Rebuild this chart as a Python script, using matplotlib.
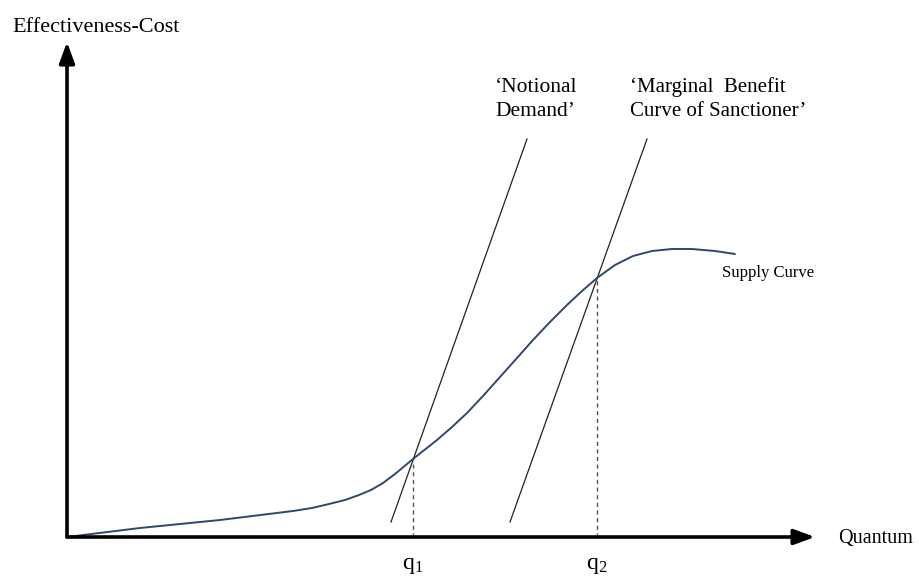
import matplotlib
matplotlib.use("Agg")
import matplotlib.pyplot as plt

plt.rcParams['font.family'] = ['Liberation Serif', 'DejaVu Serif']
plt.rcParams['mathtext.fontset'] = 'custom'
plt.rcParams['mathtext.rm'] = 'Liberation Serif'
plt.rcParams['mathtext.it'] = 'Liberation Serif:italic'

# ---- data (diagram units: origin at axes intersection) ----
supply_x = [0, 73, 153, 226, 245, 262, 278, 292, 304, 316, 328, 346, 370, 385,
            400, 416, 433, 450, 466, 483, 500, 515, 530, 548, 566, 585, 605,
            625, 648, 668]
supply_y = [0, 9, 17, 26, 29, 33, 37, 42, 47, 54, 63, 78, 97, 110,
            124, 141, 160, 179, 197, 215, 232, 246, 259, 272, 281, 286, 288,
            288, 286, 283]

notional_x = [324, 460]
notional_y = [15, 398]
marginal_x = [443, 580]
marginal_y = [15, 398]

q_values = [346, 530]
q_heights = [78, 259]
q_labels = ['q$_1$', 'q$_2$']

x_label = 'Quantum'
y_label = 'Effectiveness-Cost'
supply_label = 'Supply Curve'
notional_label = ['\u2018Notional', 'Demand\u2019']
marginal_label = ['\u2018Marginal  Benefit', 'Curve of Sanctioner\u2019']

x_end = 748
y_end = 495

fig = plt.figure(figsize=(9.2, 5.77), dpi=100)
ax = fig.add_axes([0, 0, 1, 1])
ax.set_xlim(-67, 853)
ax.set_ylim(-40, 537)
ax.axis('off')

# axes arrows
for tip in [(x_end, 0), (0, y_end)]:
    ax.annotate('', xy=tip, xytext=(0, 0),
                arrowprops=dict(arrowstyle='-|>,head_length=0.9,head_width=0.33',
                                lw=2.6, color='black', mutation_scale=14,
                                shrinkA=0, shrinkB=0))

# demand lines
ax.plot(notional_x, notional_y, color='#222222', lw=0.9)
ax.plot(marginal_x, marginal_y, color='#222222', lw=0.9)

# supply curve
ax.plot(supply_x, supply_y, color='#2f4770', lw=1.4,
        solid_joinstyle='round', solid_capstyle='round')

# dashed verticals
for qx, qh, ql in zip(q_values, q_heights, q_labels):
    ax.plot([qx, qx], [0, qh], color='#555555', lw=1.0, ls=(0, (3, 2.5)))
    ax.text(qx, -28, ql, ha='center', va='center', fontsize=17)

ax.text(-55, 510, y_label, ha='left', va='center', fontsize=16)
ax.text(771, -2, x_label, ha='left', va='center', fontsize=14.5)
ax.text(655, 264, supply_label, ha='left', va='center', fontsize=12)

ax.text(428, 450, notional_label[0], ha='left', va='center', fontsize=15.5)
ax.text(428, 425, notional_label[1], ha='left', va='center', fontsize=15.5)
ax.text(563, 450, marginal_label[0], ha='left', va='center', fontsize=15)
ax.text(563, 425, marginal_label[1], ha='left', va='center', fontsize=15)

fig.savefig('out.png', dpi=100)
